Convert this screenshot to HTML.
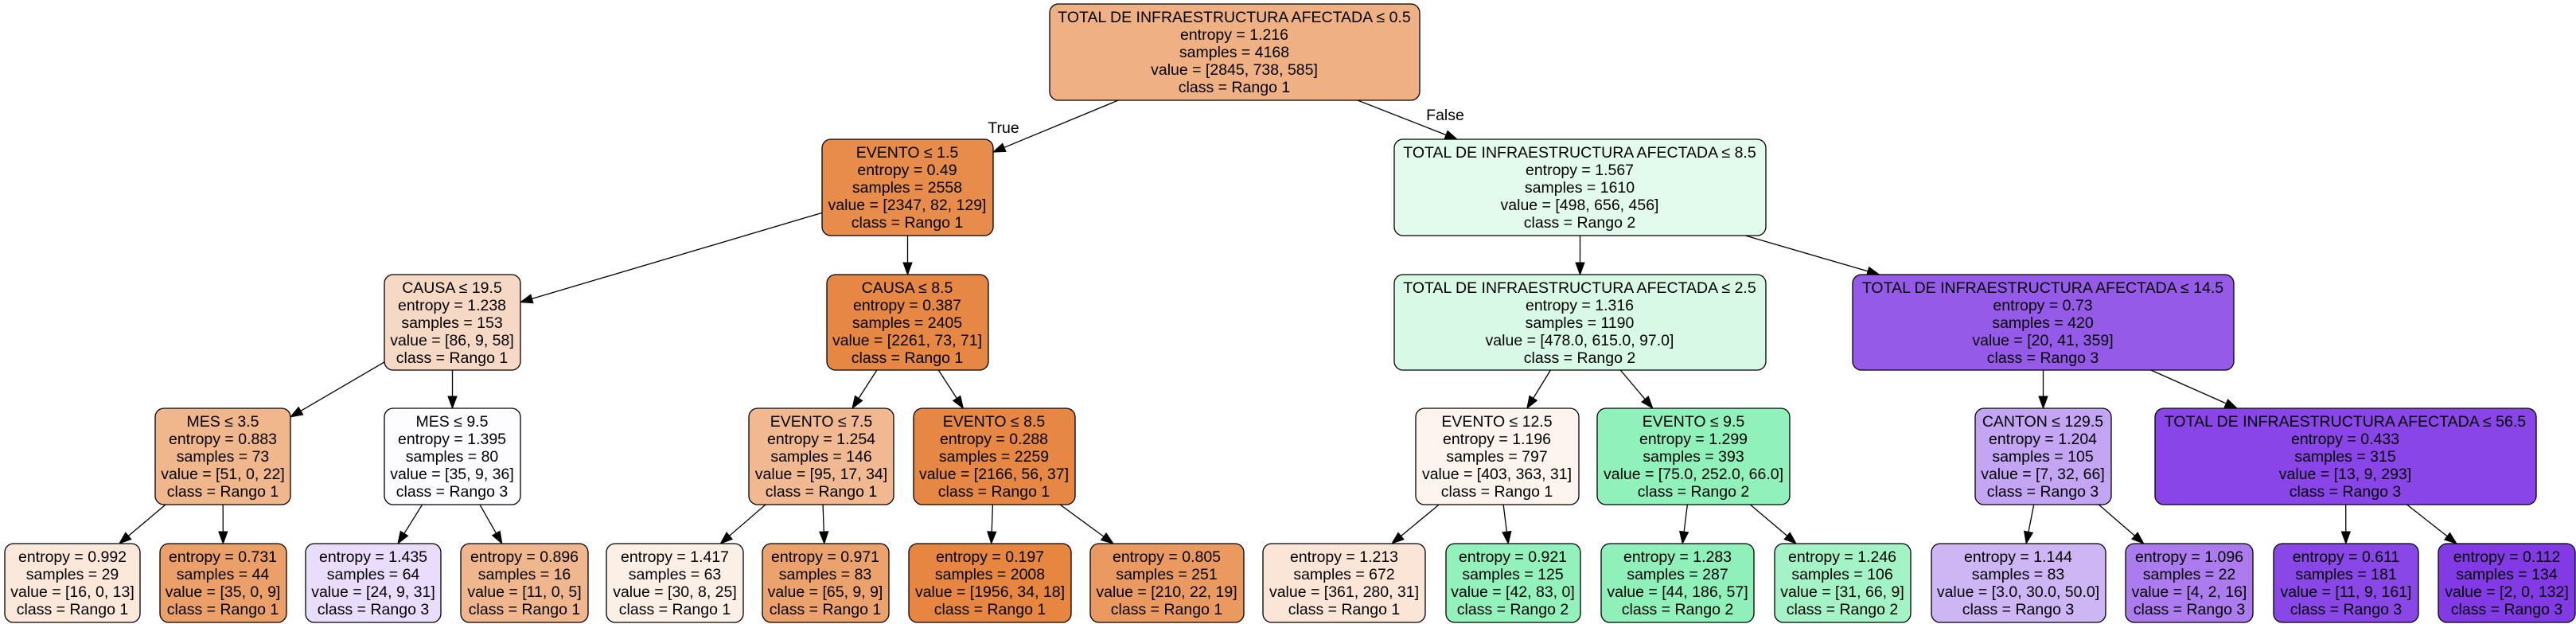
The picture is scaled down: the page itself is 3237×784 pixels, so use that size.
<!DOCTYPE html>
<html><head><meta charset="utf-8"><style>
html,body{margin:0;padding:0;background:#fff;}
svg{display:block;}
text{font-family:"Liberation Sans",Arial,sans-serif;font-size:19.5px;fill:#000;text-anchor:middle;}
rect{stroke:#000;stroke-width:1.3;}
</style></head><body>
<svg id="s" width="3237" height="784" xmlns="http://www.w3.org/2000/svg">
<g id="edges"></g>
<rect x="1319" y="5" width="465" height="121" rx="11" fill="#efb184"/>
<text x="1551" y="28">TOTAL DE INFRAESTRUCTURA AFECTADA ≤ 0.5</text><text x="1551" y="50">entropy = 1.216</text><text x="1551" y="72">samples = 4168</text><text x="1551" y="94">value = [2845, 738, 585]</text><text x="1551" y="116">class = Rango 1</text>
<text x="1261" y="167">True</text><text x="1816" y="151">False</text>
<rect x="1033" y="175" width="215" height="121" rx="11" fill="#e78c4a"/>
<text x="1140" y="198">EVENTO ≤ 1.5</text><text x="1140" y="220">entropy = 0.49</text><text x="1140" y="242">samples = 2558</text><text x="1140" y="264">value = [2347, 82, 129]</text><text x="1140" y="286">class = Rango 1</text>
<rect x="1752" y="175" width="467" height="121" rx="11" fill="#e2fbed"/>
<text x="1985" y="198">TOTAL DE INFRAESTRUCTURA AFECTADA ≤ 8.5</text><text x="1985" y="220">entropy = 1.567</text><text x="1985" y="242">samples = 1610</text><text x="1985" y="264">value = [498, 656, 456]</text><text x="1985" y="286">class = Rango 2</text>
<rect x="483" y="345" width="171" height="120" rx="11" fill="#f6d9c4"/>
<text x="568" y="368">CAUSA ≤ 19.5</text><text x="568" y="390">entropy = 1.238</text><text x="568" y="412">samples = 153</text><text x="568" y="434">value = [86, 9, 58]</text><text x="568" y="456">class = Rango 1</text>
<rect x="1039" y="345" width="203" height="120" rx="11" fill="#e68844"/>
<text x="1140" y="368">CAUSA ≤ 8.5</text><text x="1140" y="390">entropy = 0.387</text><text x="1140" y="412">samples = 2405</text><text x="1140" y="434">value = [2261, 73, 71]</text><text x="1140" y="456">class = Rango 1</text>
<rect x="1752" y="345" width="467" height="120" rx="11" fill="#d7f9e6"/>
<text x="1985" y="368">TOTAL DE INFRAESTRUCTURA AFECTADA ≤ 2.5</text><text x="1985" y="390">entropy = 1.316</text><text x="1985" y="412">samples = 1190</text><text x="1985" y="434">value = [478.0, 615.0, 97.0]</text><text x="1985" y="456">class = Rango 2</text>
<rect x="2328" y="345" width="479" height="120" rx="11" fill="#965ae9"/>
<text x="2567" y="368">TOTAL DE INFRAESTRUCTURA AFECTADA ≤ 14.5</text><text x="2567" y="390">entropy = 0.73</text><text x="2567" y="412">samples = 420</text><text x="2567" y="434">value = [20, 41, 359]</text><text x="2567" y="456">class = Rango 3</text>
<rect x="195" y="513" width="170" height="121" rx="11" fill="#f0b68c"/>
<text x="280" y="536">MES ≤ 3.5</text><text x="280" y="558">entropy = 0.883</text><text x="280" y="580">samples = 73</text><text x="280" y="602">value = [51, 0, 22]</text><text x="280" y="624">class = Rango 1</text>
<rect x="483" y="513" width="171" height="121" rx="11" fill="#fdfcff"/>
<text x="568" y="536">MES ≤ 9.5</text><text x="568" y="558">entropy = 1.395</text><text x="568" y="580">samples = 80</text><text x="568" y="602">value = [35, 9, 36]</text><text x="568" y="624">class = Rango 3</text>
<rect x="941" y="513" width="182" height="121" rx="11" fill="#f1b991"/>
<text x="1032" y="536">EVENTO ≤ 7.5</text><text x="1032" y="558">entropy = 1.254</text><text x="1032" y="580">samples = 146</text><text x="1032" y="602">value = [95, 17, 34]</text><text x="1032" y="624">class = Rango 1</text>
<rect x="1148" y="513" width="203" height="121" rx="11" fill="#e68844"/>
<text x="1249" y="536">EVENTO ≤ 8.5</text><text x="1249" y="558">entropy = 0.288</text><text x="1249" y="580">samples = 2259</text><text x="1249" y="602">value = [2166, 56, 37]</text><text x="1249" y="624">class = Rango 1</text>
<rect x="1779" y="513" width="205" height="121" rx="11" fill="#fdf4ed"/>
<text x="1881" y="536">EVENTO ≤ 12.5</text><text x="1881" y="558">entropy = 1.196</text><text x="1881" y="580">samples = 797</text><text x="1881" y="602">value = [403, 363, 31]</text><text x="1881" y="624">class = Rango 1</text>
<rect x="2007" y="513" width="242" height="121" rx="11" fill="#91f1ba"/>
<text x="2128" y="536">EVENTO ≤ 9.5</text><text x="2128" y="558">entropy = 1.299</text><text x="2128" y="580">samples = 393</text><text x="2128" y="602">value = [75.0, 252.0, 66.0]</text><text x="2128" y="624">class = Rango 2</text>
<rect x="2482" y="513" width="171" height="121" rx="11" fill="#c3a5f3"/>
<text x="2567" y="536">CANTON ≤ 129.5</text><text x="2567" y="558">entropy = 1.204</text><text x="2567" y="580">samples = 105</text><text x="2567" y="602">value = [7, 32, 66]</text><text x="2567" y="624">class = Rango 3</text>
<rect x="2708" y="513" width="479" height="121" rx="11" fill="#8945e7"/>
<text x="2947" y="536">TOTAL DE INFRAESTRUCTURA AFECTADA ≤ 56.5</text><text x="2947" y="558">entropy = 0.433</text><text x="2947" y="580">samples = 315</text><text x="2947" y="602">value = [13, 9, 293]</text><text x="2947" y="624">class = Rango 3</text>
<rect x="6" y="683" width="170" height="99" rx="11" fill="#fbe8db"/>
<text x="91" y="706">entropy = 0.992</text><text x="91" y="728">samples = 29</text><text x="91" y="750">value = [16, 0, 13]</text><text x="91" y="772">class = Rango 1</text>
<rect x="201" y="683" width="159" height="99" rx="11" fill="#eba069"/>
<text x="280" y="706">entropy = 0.731</text><text x="280" y="728">samples = 44</text><text x="280" y="750">value = [35, 0, 9]</text><text x="280" y="772">class = Rango 1</text>
<rect x="384" y="683" width="170" height="99" rx="11" fill="#eadcfb"/>
<text x="469" y="706">entropy = 1.435</text><text x="469" y="728">samples = 64</text><text x="469" y="750">value = [24, 9, 31]</text><text x="469" y="772">class = Rango 3</text>
<rect x="579" y="683" width="160" height="99" rx="11" fill="#f0b78e"/>
<text x="659" y="706">entropy = 0.896</text><text x="659" y="728">samples = 16</text><text x="659" y="750">value = [11, 0, 5]</text><text x="659" y="772">class = Rango 1</text>
<rect x="762" y="683" width="172" height="99" rx="11" fill="#fcefe6"/>
<text x="848" y="706">entropy = 1.417</text><text x="848" y="728">samples = 63</text><text x="848" y="750">value = [30, 8, 25]</text><text x="848" y="772">class = Rango 1</text>
<rect x="958" y="683" width="159" height="99" rx="11" fill="#eca26d"/>
<text x="1037" y="706">entropy = 0.971</text><text x="1037" y="728">samples = 83</text><text x="1037" y="750">value = [65, 9, 9]</text><text x="1037" y="772">class = Rango 1</text>
<rect x="1142" y="683" width="204" height="99" rx="11" fill="#e68640"/>
<text x="1244" y="706">entropy = 0.197</text><text x="1244" y="728">samples = 2008</text><text x="1244" y="750">value = [1956, 34, 18]</text><text x="1244" y="772">class = Rango 1</text>
<rect x="1370" y="683" width="193" height="99" rx="11" fill="#ea9a60"/>
<text x="1466" y="706">entropy = 0.805</text><text x="1466" y="728">samples = 251</text><text x="1466" y="750">value = [210, 22, 19]</text><text x="1466" y="772">class = Rango 1</text>
<rect x="1587" y="683" width="204" height="99" rx="11" fill="#fae5d6"/>
<text x="1689" y="706">entropy = 1.213</text><text x="1689" y="728">samples = 672</text><text x="1689" y="750">value = [361, 280, 31]</text><text x="1689" y="772">class = Rango 1</text>
<rect x="1817" y="683" width="169" height="99" rx="11" fill="#93f1bc"/>
<text x="1901" y="706">entropy = 0.921</text><text x="1901" y="728">samples = 125</text><text x="1901" y="750">value = [42, 83, 0]</text><text x="1901" y="772">class = Rango 2</text>
<rect x="2012" y="683" width="192" height="99" rx="11" fill="#90f0b9"/>
<text x="2108" y="706">entropy = 1.283</text><text x="2108" y="728">samples = 287</text><text x="2108" y="750">value = [44, 186, 57]</text><text x="2108" y="772">class = Rango 2</text>
<rect x="2230" y="683" width="171" height="99" rx="11" fill="#a4f3c6"/>
<text x="2315" y="706">entropy = 1.246</text><text x="2315" y="728">samples = 106</text><text x="2315" y="750">value = [31, 66, 9]</text><text x="2315" y="772">class = Rango 2</text>
<rect x="2427" y="683" width="219" height="99" rx="11" fill="#ceb6f5"/>
<text x="2536" y="706">entropy = 1.144</text><text x="2536" y="728">samples = 83</text><text x="2536" y="750">value = [3.0, 30.0, 50.0]</text><text x="2536" y="772">class = Rango 3</text>
<rect x="2671" y="683" width="160" height="99" rx="11" fill="#ac7cee"/>
<text x="2751" y="706">entropy = 1.096</text><text x="2751" y="728">samples = 22</text><text x="2751" y="750">value = [4, 2, 16]</text><text x="2751" y="772">class = Rango 3</text>
<rect x="2857" y="683" width="182" height="99" rx="11" fill="#8a47e7"/>
<text x="2948" y="706">entropy = 0.611</text><text x="2948" y="728">samples = 181</text><text x="2948" y="750">value = [11, 9, 161]</text><text x="2948" y="772">class = Rango 3</text>
<rect x="3064" y="683" width="172" height="99" rx="11" fill="#823ae5"/>
<text x="3150" y="706">entropy = 0.112</text><text x="3150" y="728">samples = 134</text><text x="3150" y="750">value = [2, 0, 132]</text><text x="3150" y="772">class = Rango 3</text>
</svg>
<script>
var N={R:[1319,5,1784,126],A:[1033,175,1248,296],B:[1752,175,2219,296],
C:[483,345,654,465],D:[1039,345,1242,465],E:[1752,345,2219,465],F:[2328,345,2807,465],
G:[195,513,365,634],H:[483,513,654,634],I:[941,513,1123,634],J:[1148,513,1351,634],
K:[1779,513,1984,634],L:[2007,513,2249,634],M:[2482,513,2653,634],O:[2708,513,3187,634]};
var lx=[[6,176],[201,360],[384,554],[579,739],[762,934],[958,1117],[1142,1346],[1370,1563],[1587,1791],[1817,1986],[2012,2204],[2230,2401],[2427,2646],[2671,2831],[2857,3039],[3064,3236]];
lx.forEach(function(v,i){N['l'+i]=[v[0],683,v[1],782];});
var E=[['R','A'],['R','B'],['A','C'],['A','D'],['B','E'],['B','F'],['C','G'],['C','H'],['D','I'],['D','J'],['E','K'],['E','L'],['F','M'],['F','O'],
['G','l0'],['G','l1'],['H','l2'],['H','l3'],['I','l4'],['I','l5'],['J','l6'],['J','l7'],['K','l8'],['K','l9'],['L','l10'],['L','l11'],['M','l12'],['M','l13'],['O','l14'],['O','l15']];
function c(r){return[(r[0]+r[2])/2,(r[1]+r[3])/2];}
function clip(r,p,q){
 var dx=q[0]-p[0],dy=q[1]-p[1],t=1e9;
 if(dx){t=Math.min(t,((dx>0?r[2]:r[0])-p[0])/dx);}
 if(dy){t=Math.min(t,((dy>0?r[3]:r[1])-p[1])/dy);}
 return[p[0]+dx*t,p[1]+dy*t];}
var g=document.getElementById('edges'),h='';
E.forEach(function(e){var a=N[e[0]],b=N[e[1]],pa=c(a),pb=c(b);
 var s=clip(a,pa,pb),t=clip(b,pb,pa);
 var dx=t[0]-s[0],dy=t[1]-s[1],L=Math.hypot(dx,dy),ux=dx/L,uy=dy/L,al=15,aw=5.5;
 var bx=t[0]-ux*al,by=t[1]-uy*al;
 h+='<line x1="'+s[0]+'" y1="'+s[1]+'" x2="'+bx+'" y2="'+by+'" stroke="#000" stroke-width="1.3"/>';
 h+='<polygon points="'+t[0]+','+t[1]+' '+(bx-uy*aw)+','+(by+ux*aw)+' '+(bx+uy*aw)+','+(by-ux*aw)+'" fill="#000" stroke="#000"/>';});
g.innerHTML=h;
</script>
</body></html>
